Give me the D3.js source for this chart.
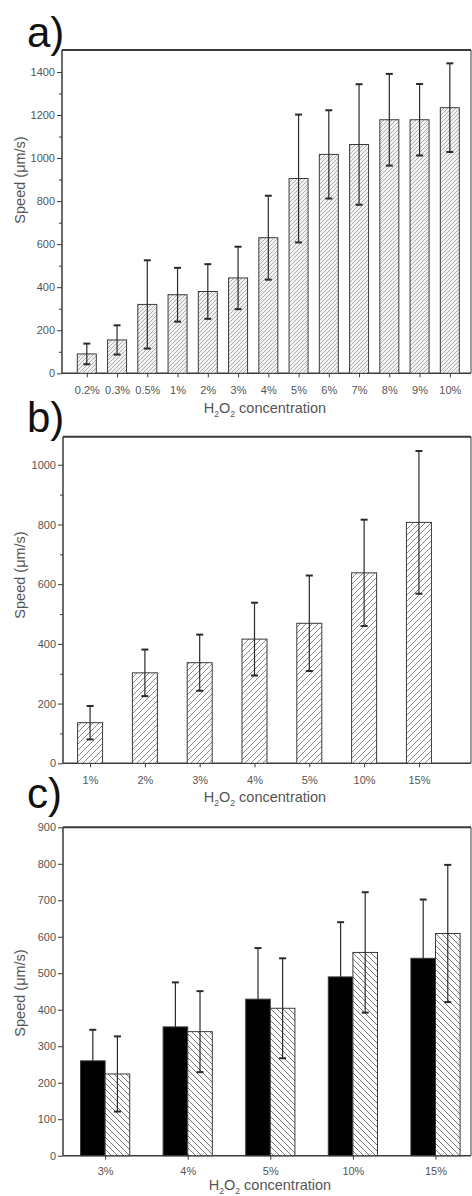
<!DOCTYPE html>
<html>
<head>
<meta charset="utf-8">
<script src="https://cdn.jsdelivr.net/npm/d3@7"></script>
<style>
  body { margin: 0; background: #fff; }
  svg text { font-family: "Liberation Sans", Arial, sans-serif; }
</style>
</head>
<body>
<script>
// panel a
const catsA = ["0.2%", "0.3%", "0.5%", "1%", "2%", "3%", "4%", "5%", "6%", "7%", "8%", "9%", "10%"];
const speedA = [90, 155, 320, 365, 380, 443, 630, 905, 1017, 1063, 1178, 1178, 1234];
const errA = [48, 68, 205, 125, 127, 145, 195, 297, 205, 280, 213, 166, 206];
const ticksA = [0, 200, 400, 600, 800, 1000, 1200, 1400];

// panel b
const catsB = ["1%", "2%", "3%", "4%", "5%", "10%", "15%"];
const speedB = [136, 303, 337, 416, 469, 638, 807];
const errB = [56, 78, 94, 122, 160, 178, 239];
const ticksB = [0, 200, 400, 600, 800, 1000];

// panel c, two series
const catsC = ["3%", "4%", "5%", "10%", "15%"];
const speedC1 = [260, 353, 429, 490, 541];
const errC1 = [85, 122, 140, 150, 161];
const speedC2 = [224, 340, 404, 557, 609];
const errC2 = [103, 111, 137, 165, 188];
const ticksC = [0, 100, 200, 300, 400, 500, 600, 700, 800, 900];

const W = 472, H = 1196;
const svg = d3.select("body").append("svg").attr("width", W).attr("height", H);

// hatch patterns
const defs = svg.append("defs");
const addHatch = (id, size, dir, color, bg) => {
    const p = defs.append("pattern").attr("id", id)
        .attr("patternUnits", "userSpaceOnUse")
        .attr("width", size).attr("height", size);
    p.append("rect").attr("width", size).attr("height", size).attr("fill", bg);
    const d = dir > 0
        ? `M0,${size} L${size},0 M${-size / 2},${size / 2} L${size / 2},${-size / 2} M${size / 2},${size * 1.5} L${size * 1.5},${size / 2}`
        : `M0,0 L${size},${size} M${-size / 2},${size / 2} L${size / 2},${size * 1.5} M${size / 2},${-size / 2} L${size * 1.5},${size / 2}`;
    p.append("path").attr("d", d).attr("stroke", color).attr("stroke-width", 1).attr("fill", "none");
};
addHatch("hatchA", 4, 1, "#b0b0b0", "#f2f2f2");
addHatch("hatchB", 6, 1, "#8a8a8a", "#fff");
addHatch("hatchC", 6, -1, "#7a7a7a", "#fff");

const lineCol = "#3a3a3a";
const textCol = "#555";

// draws frame, axes, labels for a panel and returns scales
const drawPanel = (cfg) => {
    const g = svg.append("g");
    const x = d3.scaleLinear().domain(cfg.xDomain).range([cfg.left, cfg.right]);
    const y = d3.scaleLinear().domain(cfg.yDomain).range([cfg.bottom, cfg.top]);

    // frame top/right
    g.append("line").attr("x1", cfg.left).attr("x2", cfg.right).attr("y1", cfg.top).attr("y2", cfg.top)
        .attr("stroke", lineCol).attr("stroke-width", 2);
    g.append("line").attr("x1", cfg.right).attr("x2", cfg.right).attr("y1", cfg.top).attr("y2", cfg.bottom)
        .attr("stroke", lineCol).attr("stroke-width", 1);

    // y axis
    const yAxis = d3.axisLeft(y).tickValues(cfg.yTicks).tickSize(5).tickPadding(2).tickFormat(d3.format("d"));
    const ya = g.append("g").attr("transform", `translate(${cfg.left},0)`).call(yAxis);
    if (cfg.yMinor) {
        const minor = d3.axisLeft(y).tickValues(cfg.yMinor).tickSize(3).tickFormat("");
        g.append("g").attr("transform", `translate(${cfg.left},0)`).call(minor)
            .call(s => s.select(".domain").remove())
            .selectAll("line").attr("stroke", lineCol);
    }
    ya.select(".domain").attr("stroke", lineCol).attr("stroke-width", 1.5)
        .attr("d", `M0,${cfg.bottom}V${cfg.top}`);
    ya.selectAll(".tick line").attr("stroke", lineCol);
    ya.selectAll("text").attr("fill", textCol).attr("font-size", 11);

    // x axis
    const xAxis = d3.axisBottom(x).tickValues(d3.range(cfg.cats.length)).tickSize(4).tickPadding(cfg.xPad)
        .tickFormat(i => cfg.cats[i]);
    const xa = g.append("g").attr("transform", `translate(0,${cfg.bottom})`).call(xAxis);
    xa.select(".domain").attr("stroke", lineCol).attr("stroke-width", 1.5)
        .attr("d", `M${cfg.left},0H${cfg.right}`);
    xa.selectAll(".tick line").attr("stroke", lineCol);
    xa.selectAll("text").attr("fill", textCol).attr("font-size", 11);

    // axis titles
    g.append("text")
        .attr("transform", `translate(${cfg.yTitleX},${cfg.yTitleY}) rotate(-90)`)
        .attr("text-anchor", "middle").attr("font-size", 14.5).attr("fill", textCol)
        .text("Speed (μm/s)");
    const xt = g.append("text").attr("x", cfg.xTitleX).attr("y", cfg.xTitleY)
        .attr("text-anchor", "middle").attr("font-size", 14.5).attr("fill", textCol);
    xt.append("tspan").text("H");
    xt.append("tspan").attr("font-size", 8.5).attr("dy", 4).text("2");
    xt.append("tspan").attr("dy", -4).text("O");
    xt.append("tspan").attr("font-size", 8.5).attr("dy", 4).text("2");
    xt.append("tspan").attr("dy", -4).text(" concentration");

    // panel letter
    g.append("text").attr("x", cfg.labelX).attr("y", cfg.labelY)
        .attr("font-size", 42).attr("fill", "#111").text(cfg.label);

    return { g, x, y };
};

const drawBars = (p, vals, errs, offset, width, fill, errUp) => {
    const idx = d3.range(vals.length);
    p.g.append("g").selectAll("rect").data(idx).enter().append("rect")
        .attr("x", i => p.x(i) + offset - width / 2)
        .attr("y", i => p.y(vals[i]))
        .attr("width", width)
        .attr("height", i => p.y(0) - p.y(vals[i]))
        .attr("fill", fill)
        .attr("stroke", lineCol).attr("stroke-width", 1);

    const eb = p.g.append("g").selectAll("g").data(idx).enter().append("g")
        .attr("stroke", "#2a2a2a");
    eb.append("line")
        .attr("x1", i => p.x(i) + offset).attr("x2", i => p.x(i) + offset)
        .attr("y1", i => p.y(vals[i] + errs[i]))
        .attr("y2", i => p.y(errUp ? vals[i] : vals[i] - errs[i]))
        .attr("stroke-width", 1.2);
    eb.append("line")
        .attr("x1", i => p.x(i) + offset - 3.5).attr("x2", i => p.x(i) + offset + 3.5)
        .attr("y1", i => p.y(vals[i] + errs[i])).attr("y2", i => p.y(vals[i] + errs[i]))
        .attr("stroke-width", 2);
    if (!errUp) {
        eb.append("line")
            .attr("x1", i => p.x(i) + offset - 3.5).attr("x2", i => p.x(i) + offset + 3.5)
            .attr("y1", i => p.y(vals[i] - errs[i])).attr("y2", i => p.y(vals[i] - errs[i]))
            .attr("stroke-width", 2);
    }
};

// a)
const pa = drawPanel({
    cats: catsA, xDomain: [-0.82, 12.7], yDomain: [0, 1502],
    left: 62, right: 471, top: 50, bottom: 373.3, xPad: 9,
    yTicks: ticksA, yMinor: d3.range(100, 1500, 200),
    yTitleX: 25, yTitleY: 180, xTitleX: 265, xTitleY: 413,
    label: "a)", labelX: 27, labelY: 47
});
drawBars(pa, speedA, errA, 0, 19, "url(#hatchA)", false);

// b)
const pb = drawPanel({
    cats: catsB, xDomain: [-0.494, 6.95], yDomain: [0, 1094],
    left: 63, right: 471, top: 436.7, bottom: 763.3, xPad: 9,
    yTicks: ticksB, yMinor: d3.range(100, 1100, 200),
    yTitleX: 25, yTitleY: 575, xTitleX: 265, xTitleY: 802,
    label: "b)", labelX: 27, labelY: 432
});
drawBars(pb, speedB, errB, 0, 25, "url(#hatchB)", false);

// c)
const pc = drawPanel({
    cats: catsC, xDomain: [-0.51, 4.43], yDomain: [0, 900],
    left: 63, right: 471, top: 827.3, bottom: 1155.7, xPad: 8,
    yTicks: ticksC, yMinor: null,
    yTitleX: 25, yTitleY: 993, xTitleX: 270, xTitleY: 1190,
    label: "c)", labelX: 27, labelY: 808
});
drawBars(pc, speedC1, errC1, -12.3, 24.6, "#000", true);
drawBars(pc, speedC2, errC2, 12.3, 24.6, "url(#hatchC)", false);
</script>
</body>
</html>
